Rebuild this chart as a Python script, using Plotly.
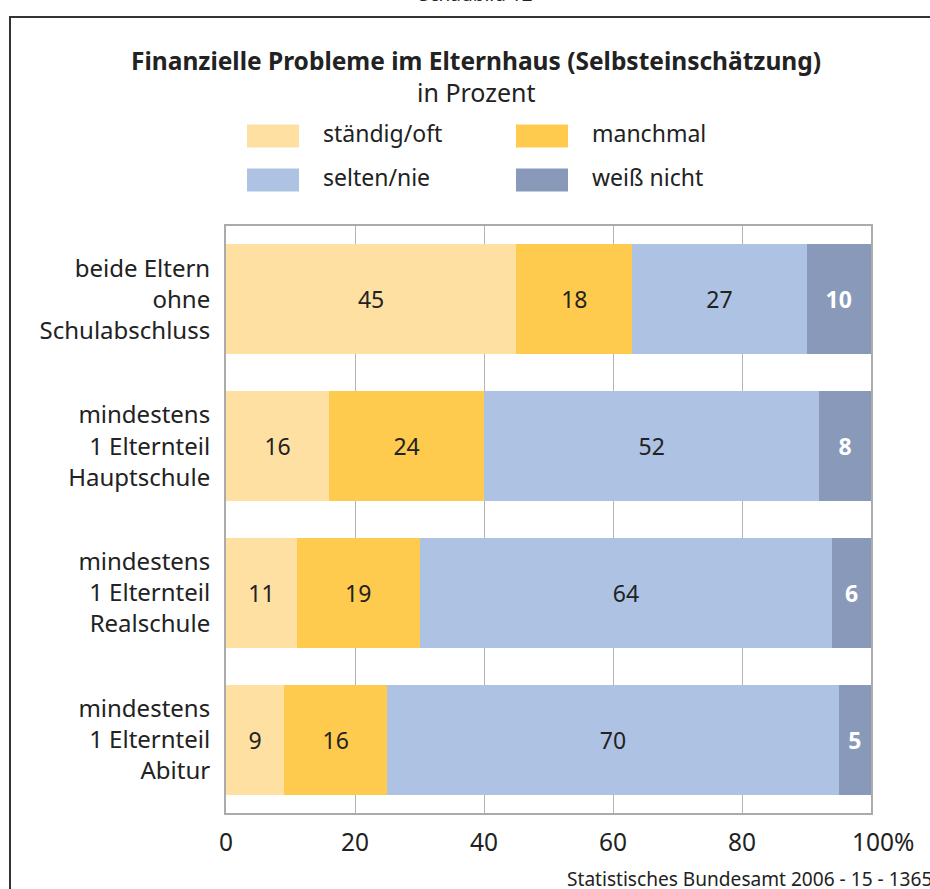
import plotly.graph_objects as go

categories = ["beide Eltern<br>ohne<br>Schulabschluss",
              "mindestens<br>1 Elternteil<br>Hauptschule",
              "mindestens<br>1 Elternteil<br>Realschule",
              "mindestens<br>1 Elternteil<br>Abitur"]
series_names = ["ständig/oft", "manchmal", "selten/nie", "weiß nicht"]
staendig_oft = [45, 16, 11, 9]
manchmal = [18, 24, 19, 16]
selten_nie = [27, 52, 64, 70]
weiss_nicht = [10, 8, 6, 5]
x_tickvals = [0, 20, 40, 60, 80, 100]
x_ticktext = ["0", "20", "40", "60", "80", "\u2003100%"]

colors = ["#FFE0A3", "#FFCB4E", "#AEC3E3", "#8899BA"]
text_colors = ["#222222", "#222222", "#222222", "#FFFFFF"]
FONT = "Noto Sans"
FS = 23

W, H = 930, 889
L, R, T, B = 226, 871, 226, 813


def px(xp):
    return (xp - L) / (R - L)


def py(yp):
    return (B - yp) / (B - T)


fig = go.Figure()
all_vals = [staendig_oft, manchmal, selten_nie, weiss_nicht]
for i, (name, vals) in enumerate(zip(series_names, all_vals)):
    fig.add_trace(go.Bar(
        y=categories, x=vals, name=name, orientation="h",
        marker=dict(color=colors[i], line=dict(width=0)),
        text=[str(v) for v in vals],
        texttemplate="<b>%{text}</b>" if i == 3 else "%{text}",
        textposition="inside", insidetextanchor="middle",
        constraintext="none",
        textfont=dict(family=FONT, size=FS, color=text_colors[i]),
        hoverinfo="skip",
    ))

fig.update_layout(
    width=W, height=H, barmode="stack", bargap=0.25,
    showlegend=False,
    plot_bgcolor="white", paper_bgcolor="white",
    margin=dict(l=L, r=W - R, t=T, b=H - B, pad=0),
    font=dict(family=FONT, size=FS, color="#222222"),
    xaxis=dict(range=[0, 100], tickvals=x_tickvals, ticktext=x_ticktext,
               showgrid=True, gridcolor="#B4B4B4", gridwidth=1,
               showline=True, linecolor="#ABABAB", linewidth=2, mirror=True,
               zeroline=False, ticks="", ticklabelstandoff=7,
               tickfont=dict(family=FONT, size=24.5, color="#222222")),
    yaxis=dict(categoryorder="array", categoryarray=categories,
               autorange="reversed", showgrid=False,
               showline=True, linecolor="#ABABAB", linewidth=2, mirror=True,
               ticks="", ticklabelstandoff=9,
               tickfont=dict(family=FONT, size=24, color="#222222")),
)

# outer frame
fig.add_shape(type="rect", xref="paper", yref="paper",
              x0=px(10), x1=px(960), y0=py(17), y1=py(920),
              line=dict(color="#333333", width=2), layer="below")

# titles
fig.add_annotation(text="<b>Finanzielle Probleme im Elternhaus (Selbsteinschätzung)</b>",
                   xref="paper", yref="paper", x=px(476), y=py(60),
                   xanchor="center", yanchor="middle", showarrow=False,
                   font=dict(family=FONT, size=24.5, color="#222222"))
fig.add_annotation(text="in Prozent", xref="paper", yref="paper",
                   x=px(476), y=py(92), xanchor="center", yanchor="middle",
                   showarrow=False, font=dict(family=FONT, size=25, color="#222222"))
fig.add_annotation(text="Schaubild 12", xref="paper", yref="paper",
                   x=px(476), y=py(-6), xanchor="center", yanchor="middle",
                   showarrow=False, font=dict(family=FONT, size=19, color="#222222"))
fig.add_annotation(text="Statistisches Bundesamt 2006 - 15 - 1365", xref="paper", yref="paper",
                   x=px(565), y=py(879), xanchor="left", yanchor="middle",
                   showarrow=False, font=dict(family=FONT, size=19.1, color="#222222"))

# custom legend
leg_pos = [(247, 136), (516, 136), (247, 180), (516, 180)]
for i, name in enumerate(series_names):
    lx, ly = leg_pos[i]
    fig.add_shape(type="rect", xref="paper", yref="paper",
                  x0=px(lx), x1=px(lx + 52), y0=py(ly - 11.5), y1=py(ly + 11.5),
                  fillcolor=colors[i], line=dict(width=0))
    fig.add_annotation(text=name, xref="paper", yref="paper",
                       x=px(lx + 74), y=py(ly - 3), xanchor="left", yanchor="middle",
                       showarrow=False, font=dict(family=FONT, size=FS, color="#222222"))

fig.write_html("out.html", config={"displayModeBar": False},
               post_script="document.body.style.margin='0';document.body.style.overflow='hidden';")
